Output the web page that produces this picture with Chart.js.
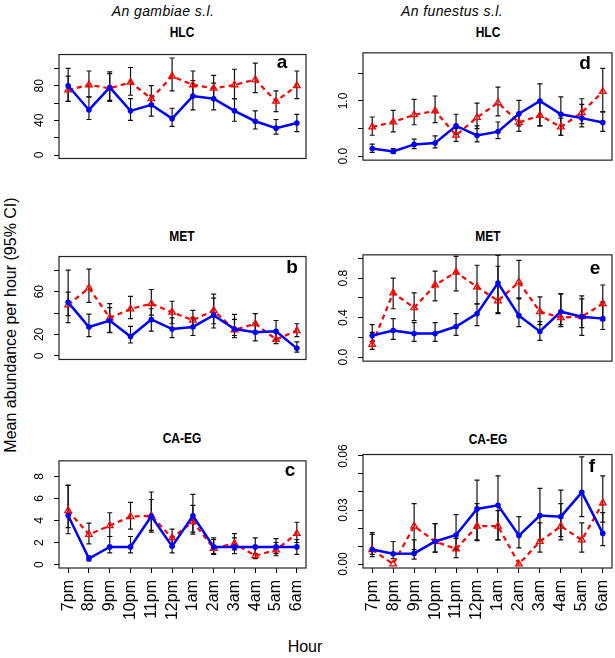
<!DOCTYPE html>
<html>
<head>
<meta charset="utf-8">
<script src="https://cdn.jsdelivr.net/npm/chart.js@4.4.0/dist/chart.umd.min.js"></script>
<style>
html, body { margin: 0; padding: 0; background: #fff; overflow: hidden; }
#wrap { position: relative; width: 615px; height: 658px; font-family: "Liberation Sans", Arial, sans-serif; color: #000; }
canvas { position: absolute; }
.t { position: absolute; white-space: nowrap; transform: translate(-50%, -50%); line-height: 1; }
.hd { font-style: italic; font-size: 14px; letter-spacing: .4px; }
.ttl { font-weight: bold; font-size: 15px; transform: translate(-50%, -50%) scaleX(.8); }
.lt { font-weight: bold; font-size: 19px; }
.ax { font-size: 16px; }
</style>
</head>
<body>
<div id="wrap">
    <div class="t hd" style="left:163px;top:11px">An gambiae s.l.</div>
    <div class="t hd" style="left:452px;top:11px">An funestus s.l.</div>

    <div class="t ttl" style="left:182px;top:31px">HLC</div>
    <div class="t ttl" style="left:488px;top:31px">HLC</div>
    <div class="t ttl" style="left:182px;top:235px">MET</div>
    <div class="t ttl" style="left:488px;top:235px">MET</div>
    <div class="t ttl" style="left:182px;top:437px">CA-EG</div>
    <div class="t ttl" style="left:488px;top:438px">CA-EG</div>

    <div class="t ax" style="left:11px;top:325px;transform:translate(-50%,-50%) rotate(-90deg)">Mean abundance per hour (95% CI)</div>
    <div class="t ax" style="left:305px;top:647px">Hour</div>
</div>
<script>
// x categories
const hours = ['7pm', '8pm', '9pm', '10pm', '11pm', '12pm', '1am', '2am', '3am', '4am', '5am', '6am'];

// a: An. gambiae, HLC
const aBlue   = [80, 52, 78, 51, 58, 42, 68, 65, 51, 39, 31, 37];
const aBlueLo = [62, 41, 63, 40, 45, 33, 52, 52, 39, 30, 24, 27];
const aBlueHi = [91, 67, 96, 65, 69, 54, 86, 83, 65, 51, 41, 47];
const aRed    = [75, 81, 77, 84, 65, 91, 81, 77, 81, 87, 62, 80];
const aRedLo  = [62, 67, 62, 69, 57, 74, 68, 64, 65, 72, 50, 65];
const aRedHi  = [100, 97, 94, 101, 80, 112, 97, 92, 99, 106, 74, 97];

// b: An. gambiae, MET
const bBlue   = [50, 27, 33, 18, 34, 25, 27, 38, 25, 22, 23, 7];
const bBlueLo = [31, 18, 22, 12, 23, 17, 19, 26, 17, 14, 15, 3.5];
const bBlueHi = [80, 39, 45, 27.5, 44, 35.5, 36, 54, 34, 30, 33, 13];
const bRed    = [47.5, 63.5, 35.5, 43.7, 48.8, 40.8, 33.3, 42.4, 24.3, 30, 15.2, 23.5];
const bRedLo  = [37.6, 50, 21.6, 34.7, 38, 30, 27, 30, 19, 22, 11.5, 18];
const bRedHi  = [59.5, 81, 48.8, 55.5, 62, 51, 42.4, 57.6, 38.7, 39.5, 21.6, 30];

// c: An. gambiae, CA-EG
const cBlue   = [4.45, 0.55, 1.61, 1.61, 4.38, 1.66, 4.43, 1.61, 1.61, 1.61, 1.61, 1.61];
const cBlueLo = [2.8, 0.35, 1.07, 1.07, 3.1, 1.07, 2.77, 1.0, 1.0, 1.0, 1.0, 0.94];
const cBlueHi = [7.2, 0.8, 2.55, 2.55, 6.58, 2.55, 6.36, 2.42, 2.42, 2.42, 2.36, 2.28];
const cRed    = [4.89, 2.74, 3.54, 4.35, 4.43, 2.42, 3.89, 1.48, 1.93, 0.81, 1.34, 2.82];
const cRedLo  = [3.35, 1.88, 2.55, 3.22, 2.95, 1.61, 2.95, 0.94, 1.34, 0.54, 0.81, 2.01];
const cRedHi  = [7.17, 3.76, 4.7, 5.64, 5.9, 3.22, 5.37, 2.28, 2.82, 1.61, 2.01, 3.84];

// d: An. funestus, HLC
const dBlue   = [0.14, 0.086, 0.215, 0.24, 0.55, 0.376, 0.446, 0.77, 1.0, 0.76, 0.69, 0.61];
const dBlueLo = [0.07, 0.05, 0.14, 0.15, 0.40, 0.26, 0.32, 0.55, 0.55, 0.38, 0.53, 0.45];
const dBlueHi = [0.22, 0.14, 0.31, 0.37, 0.76, 0.55, 0.62, 1.01, 1.31, 1.075, 0.94, 0.81];
const dRed    = [0.53, 0.62, 0.75, 0.82, 0.38, 0.70, 0.97, 0.61, 0.74, 0.53, 0.79, 1.17];
const dRedLo  = [0.38, 0.44, 0.57, 0.61, 0.27, 0.50, 0.73, 0.45, 0.55, 0.38, 0.59, 0.80];
const dRedHi  = [0.71, 0.83, 1.03, 1.09, 0.50, 0.96, 1.25, 0.77, 0.98, 0.69, 1.04, 1.59];

// e: An. funestus, MET
const eBlue   = [0.22, 0.27, 0.24, 0.24, 0.31, 0.44, 0.75, 0.42, 0.26, 0.46, 0.41, 0.39];
const eBlueLo = [0.16, 0.18, 0.16, 0.16, 0.22, 0.32, 0.44, 0.31, 0.17, 0.31, 0.30, 0.28];
const eBlueHi = [0.33, 0.39, 0.35, 0.35, 0.44, 0.54, 0.92, 0.60, 0.36, 0.64, 0.59, 0.56];
const eRed    = [0.13, 0.65, 0.50, 0.73, 0.86, 0.71, 0.57, 0.76, 0.46, 0.40, 0.41, 0.54];
const eRedLo  = [0.08, 0.49, 0.37, 0.57, 0.67, 0.54, 0.45, 0.59, 0.33, 0.33, 0.22, 0.37];
const eRedHi  = [0.25, 0.80, 0.65, 0.87, 1.02, 0.93, 1.03, 0.98, 0.61, 0.64, 0.62, 0.73];

// f: An. funestus, CA-EG
const fBlue   = [0.0081, 0.0057, 0.0059, 0.0125, 0.0161, 0.0306, 0.0326, 0.0158, 0.0269, 0.0263, 0.0398, 0.017];
const fBlueLo = [0.0041, 0.003, 0.0027, 0.0066, 0.008, 0.0134, 0.0134, 0.009, 0.0134, 0.0134, 0.0263, 0.0102];
const fBlueHi = [0.0174, 0.0125, 0.0134, 0.0224, 0.0274, 0.0466, 0.049, 0.0263, 0.042, 0.041, 0.0595, 0.0285];
const fRed    = [0.008, 0, 0.021, 0.0125, 0.0084, 0.021, 0.021, 0, 0.0125, 0.021, 0.0134, 0.0339];
const fRedLo  = [0.0054, null, 0.008, 0.0066, 0.0036, 0.013, 0.0134, null, 0.0066, 0.0152, 0.0066, 0.0233];
const fRedHi  = [0.0165, null, 0.0335, 0.0224, 0.0143, 0.0335, 0.0296, null, 0.0228, 0.0335, 0.0228, 0.049];

// y ticks (R drops labels that would overlap, hence the blanks)
const aTicks = [0, 20, 40, 60, 80, 100];            const aLabels = ['0', '', '40', '', '80', ''];
const bTicks = [0, 20, 40, 60, 80];                 const bLabels = ['0', '20', '', '60', ''];
const cTicks = [0, 2, 4, 6, 8];                     const cLabels = ['0', '2', '4', '6', '8'];
const dTicks = [0, 0.5, 1.0, 1.5];                  const dLabels = ['0.0', '', '1.0', ''];
const eTicks = [0, 0.2, 0.4, 0.6, 0.8, 1.0];        const eLabels = ['0.0', '', '0.4', '', '0.8', ''];
const fTicks = [0, 0.01, 0.02, 0.03, 0.04, 0.05, 0.06]; const fLabels = ['0.00', '', '', '0.03', '', '', '0.06'];

const BLUE = '#0000ff';
const RED = '#ff0000';
const YFONT = 12;

// error bars under the lines
const errorBars = {
    id: 'errorBars',
    beforeDatasetsDraw(chart) {
        const { ctx, scales: { x, y } } = chart;
        ctx.save();
        ctx.strokeStyle = '#111';
        ctx.lineWidth = 1.2;
        chart.data.datasets.forEach(ds => {
            ds.lo.forEach((lo, i) => {
                const hi = ds.hi[i];
                if (lo == null || hi == null) return;
                const px = x.getPixelForValue(i);
                const y1 = y.getPixelForValue(lo);
                const y2 = y.getPixelForValue(hi);
                ctx.beginPath();
                ctx.moveTo(px, y1); ctx.lineTo(px, y2);
                ctx.moveTo(px - 2.5, y1); ctx.lineTo(px + 2.5, y1);
                ctx.moveTo(px - 2.5, y2); ctx.lineTo(px + 2.5, y2);
                ctx.stroke();
            });
        });
        ctx.restore();
    }
};

// box round the plot region
const boxPlugin = {
    id: 'boxPlugin',
    afterDraw(chart) {
        const { ctx, chartArea: a } = chart;
        ctx.save();
        ctx.strokeStyle = '#222';
        ctx.lineWidth = 1.2;
        ctx.strokeRect(a.left, a.top, a.right - a.left, a.bottom - a.top);
        ctx.restore();
    }
};

const mctx = document.createElement('canvas').getContext('2d');
function yPadding(labels) {
    mctx.font = YFONT + 'px "Liberation Sans"';
    const w = Math.max(...labels.map(s => mctx.measureText(s).width));
    return 19 - 5 - w / 2;
}

const pts = arr => arr.map((v, i) => ({ x: i, y: v }));

const wrap = document.getElementById('wrap');

function panel(o) {
    const bottomRow = !!o.xAxis;
    const padL = 52, padT = 6, padR = 8, padB = 6, xH = 75;
    const cv = document.createElement('canvas');
    const w = (o.box[2] - o.box[0]) + padL + padR;
    const h = (o.box[3] - o.box[1]) + padT + (bottomRow ? xH : padB);
    cv.width = w; cv.height = h;
    cv.style.left = (o.box[0] - padL) + 'px';
    cv.style.top = (o.box[1] - padT) + 'px';
    wrap.appendChild(cv);

    const lt = document.createElement('div');
    lt.className = 't lt';
    lt.style.left = o.letterAt[0] + 'px';
    lt.style.top = o.letterAt[1] + 'px';
    lt.textContent = o.letter;
    wrap.appendChild(lt);

    new Chart(cv, {
        type: 'line',
        data: {
            datasets: [
                {
                    data: pts(o.blue), lo: o.blueLo, hi: o.blueHi,
                    borderColor: BLUE, borderWidth: 2.5, tension: 0,
                    pointStyle: 'circle', pointRadius: 2.8, pointBorderWidth: 0,
                    pointBackgroundColor: BLUE, pointBorderColor: BLUE
                },
                {
                    data: pts(o.red), lo: o.redLo, hi: o.redHi,
                    borderColor: RED, borderWidth: 2.2, borderDash: [5, 4], tension: 0,
                    pointStyle: 'triangle', pointRadius: 3.8, pointBorderWidth: 1.3,
                    pointBackgroundColor: 'rgba(255,255,255,0)', pointBorderColor: RED
                }
            ]
        },
        options: {
            responsive: false, animation: false, devicePixelRatio: 1, events: [],
            layout: { padding: { left: 0, top: padT, right: padR, bottom: bottomRow ? 0 : padB } },
            plugins: { legend: { display: false }, tooltip: { enabled: false } },
            scales: {
                x: {
                    type: 'linear', min: -0.44, max: 11.44,
                    display: bottomRow,
                    afterBuildTicks: s => { s.ticks = hours.map((_, i) => ({ value: i })); },
                    afterFit: s => {
                        if (!bottomRow) return;
                        s.height = xH; s.paddingLeft = 0; s.paddingRight = 0;
                    },
                    grid: { drawOnChartArea: false, tickLength: 5, color: '#000', lineWidth: 1 },
                    border: { display: false },
                    ticks: {
                        autoSkip: false, minRotation: 90, maxRotation: 90, padding: 7,
                        color: '#000', font: { family: 'Liberation Sans', size: 16 },
                        callback: (v, i) => hours[i]
                    }
                },
                y: {
                    type: 'linear', min: o.yRange[0], max: o.yRange[1],
                    afterBuildTicks: s => { s.ticks = o.ticks.map(v => ({ value: v })); },
                    afterFit: s => { s.width = padL; },
                    grid: { drawOnChartArea: false, tickLength: 5, color: '#000', lineWidth: 1 },
                    border: { display: false },
                    ticks: {
                        autoSkip: false, minRotation: 90, maxRotation: 90, crossAlign: 'center',
                        padding: yPadding(o.labels), color: '#000',
                        font: { family: 'Liberation Sans', size: YFONT },
                        callback: (v, i) => o.labels[i]
                    }
                }
            }
        },
        plugins: [errorBars, boxPlugin]
    });
}

panel({ box: [59, 46, 306, 167], yRange: [-4, 116], ticks: aTicks, labels: aLabels,
        blue: aBlue, blueLo: aBlueLo, blueHi: aBlueHi, red: aRed, redLo: aRedLo, redHi: aRedHi,
        letter: 'a', letterAt: [282, 61] });
panel({ box: [59, 248, 306, 368], yRange: [-3.4, 92.8], ticks: bTicks, labels: bLabels,
        blue: bBlue, blueLo: bBlueLo, blueHi: bBlueHi, red: bRed, redLo: bRedLo, redHi: bRedHi,
        letter: 'b', letterAt: [292, 266] });
panel({ box: [59, 449, 306, 568], yRange: [-0.3, 9.4], ticks: cTicks, labels: cLabels, xAxis: true,
        blue: cBlue, blueLo: cBlueLo, blueHi: cBlueHi, red: cRed, redLo: cRedLo, redHi: cRedHi,
        letter: 'c', letterAt: [290, 469] });
panel({ box: [363, 46, 612, 167], yRange: [-0.07, 1.87], ticks: dTicks, labels: dLabels,
        blue: dBlue, blueLo: dBlueLo, blueHi: dBlueHi, red: dRed, redLo: dRedLo, redHi: dRedHi,
        letter: 'd', letterAt: [585, 62] });
panel({ box: [363, 248, 612, 368], yRange: [-0.04, 1.035], ticks: eTicks, labels: eLabels,
        blue: eBlue, blueLo: eBlueLo, blueHi: eBlueHi, red: eRed, redLo: eRedLo, redHi: eRedHi,
        letter: 'e', letterAt: [595, 267] });
panel({ box: [363, 451, 612, 568], yRange: [-0.0022, 0.0608], ticks: fTicks, labels: fLabels, xAxis: true,
        blue: fBlue, blueLo: fBlueLo, blueHi: fBlueHi, red: fRed, redLo: fRedLo, redHi: fRedHi,
        letter: 'f', letterAt: [592, 465] });
</script>
</body>
</html>
